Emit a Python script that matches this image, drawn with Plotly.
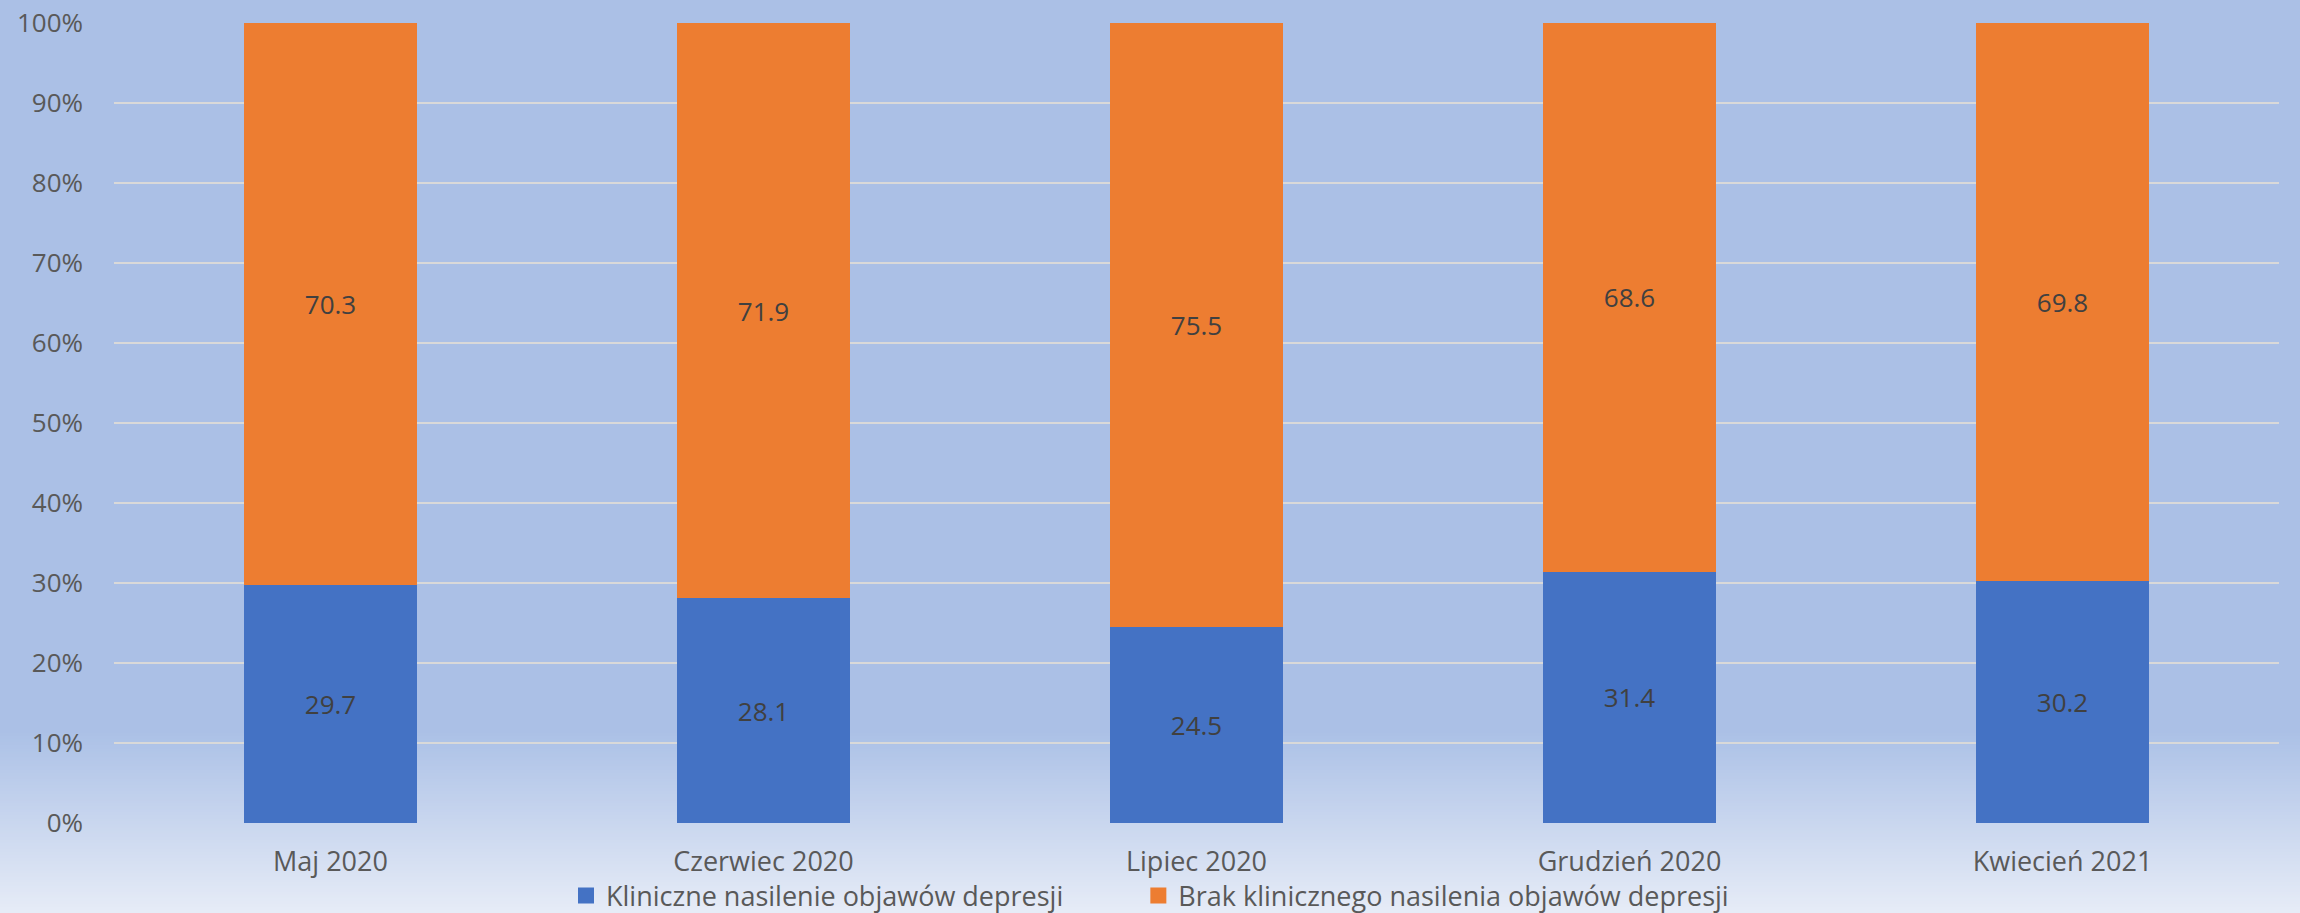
import plotly.graph_objects as go

categories = ["Maj 2020", "Czerwiec 2020", "Lipiec 2020", "Grudzień 2020", "Kwiecień 2021"]
kliniczne = [29.7, 28.1, 24.5, 31.4, 30.2]
brak = [70.3, 71.9, 75.5, 68.6, 69.8]
series_names = ["Kliniczne nasilenie objawów depresji", "Brak klinicznego nasilenia objawów depresji"]
series_colors = ["#4472C4", "#ED7D31"]
y_ticks = [0, 10, 20, 30, 40, 50, 60, 70, 80, 90, 100]
y_tick_labels = [f"{v}%" for v in y_ticks]

W, H = 2300, 913
ML, MR, MT, MB = 114, 21, 23, 90
FONT = "Open Sans"
PW = W - ML - MR
PH = H - MT - MB

fig = go.Figure()
for vals, name, col in zip([kliniczne, brak], series_names, series_colors):
    fig.add_trace(go.Bar(
        x=categories, y=vals, name=name, showlegend=False,
        marker=dict(color=col, line=dict(width=0)),
        text=[f"{v}" for v in vals], textposition="inside", insidetextanchor="middle",
        textfont=dict(color="#404040", size=26, family=FONT),
    ))
# legend entries with larger square symbols (extra spacing after the first entry)
legend_pad = ["\u00a0" * 10, ""]
for name, col, pad in zip(series_names, series_colors, legend_pad):
    fig.add_trace(go.Scatter(
        x=[None], y=[None], mode="markers", name=name + pad,
        marker=dict(symbol="square", size=18, color=col),
    ))

# background gradient (figure-wide), built as thin strips
def fig_to_paper(yf):
    return (H - MB - yf) / PH

top_rgb = (171, 192, 230)
bot_rgb = (230, 236, 247)
g_start, g_end = 730, H
xl = -ML / PW - 0.01
xr = 1 + MR / PW + 0.01
shapes = [dict(type="rect", xref="paper", yref="paper", x0=xl, x1=xr,
               y0=fig_to_paper(g_start), y1=fig_to_paper(-5),
               fillcolor="rgb(%d,%d,%d)" % top_rgb, line=dict(width=0), layer="below")]
n = 60
for i in range(n):
    t = (i + 0.5) / n
    c = tuple(round(top_rgb[k] + (bot_rgb[k] - top_rgb[k]) * t) for k in range(3))
    y0f = g_start + (g_end - g_start) * i / n
    y1f = g_start + (g_end - g_start) * (i + 1) / n + 0.8
    shapes.append(dict(type="rect", xref="paper", yref="paper", x0=xl, x1=xr,
                       y0=fig_to_paper(y1f), y1=fig_to_paper(y0f),
                       fillcolor="rgb(%d,%d,%d)" % c, line=dict(width=0), layer="below"))

fig.update_layout(
    barmode="stack",
    bargap=0.6,
    width=W, height=H,
    margin=dict(l=ML, r=MR, t=MT, b=MB, pad=0, autoexpand=False),
    paper_bgcolor="rgb(%d,%d,%d)" % bot_rgb,
    plot_bgcolor="rgba(0,0,0,0)",
    font=dict(family=FONT, size=26, color="#595959"),
    shapes=shapes,
    showlegend=True,
    legend=dict(orientation="h", x=(W / 2 - ML) / PW, xanchor="center",
                y=fig_to_paper(896), yanchor="middle",
                font=dict(size=27, color="#595959", family=FONT),
                bgcolor="rgba(0,0,0,0)", itemwidth=30, traceorder="normal",
                tracegroupgap=0, valign="middle"),
)
fig.update_xaxes(showgrid=False, zeroline=False, showline=False,
                 ticks="", ticklabelstandoff=20,
                 tickfont=dict(size=27, color="#595959", family=FONT))
fig.update_yaxes(range=[0, 100], tickvals=y_ticks, ticktext=y_tick_labels,
                 showgrid=True, gridcolor="#D9D9D9", gridwidth=2,
                 zeroline=False, showline=False, ticks="", ticklabelstandoff=30,
                 tickfont=dict(size=26, color="#595959", family=FONT))

fig.write_html("out.html", config={"displayModeBar": False},
               post_script="document.body.style.margin='0';document.body.style.overflow='hidden';")
